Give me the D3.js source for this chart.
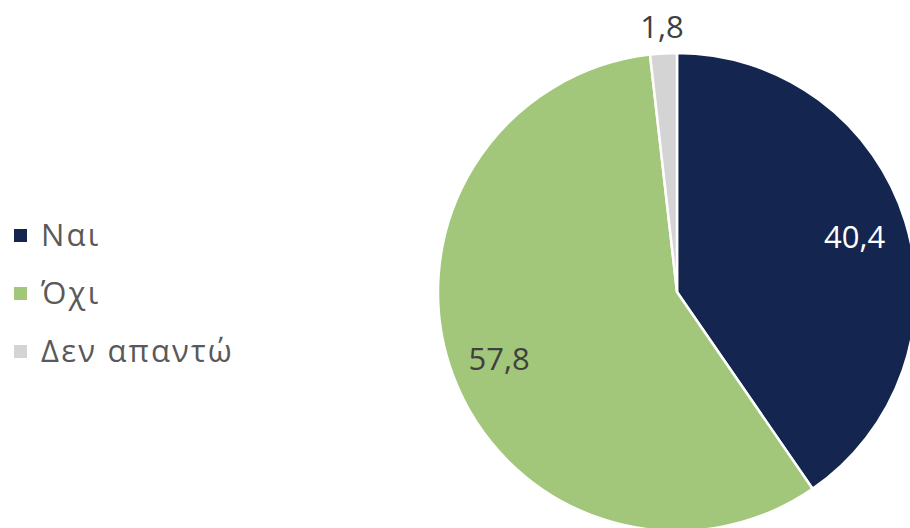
<!DOCTYPE html>
<html>
<head>
<meta charset="utf-8">
<script src="https://cdn.jsdelivr.net/npm/d3@7"></script>
<style>
  body { margin: 0; background: #fff; }
  svg { display: block; font-family: "Open Sans", "Noto Sans", sans-serif; }
</style>
</head>
<body>
<svg width="910" height="528"></svg>
<script>
var categories = ["Ναι", "Όχι", "Δεν απαντώ"];
var values = [40.4, 57.8, 1.8];
var labels = ["40,4", "57,8", "1,8"];
var colors = ["#14264f", "#a3c77a", "#d4d4d4"];

var svg = d3.select("svg"),
    cx = 677, cy = 292, radius = 239;

var data = categories.map(function(c, i) { return {name: c, value: values[i], label: labels[i]}; });

var pie = d3.pie().sort(null).value(function(d) { return d.value; });
var arc = d3.arc().innerRadius(0).outerRadius(radius);
var color = d3.scaleOrdinal().domain(categories).range(colors);

var g = svg.append("g").attr("transform", "translate(" + cx + "," + cy + ")");
var arcs = pie(data);

g.selectAll("path")
    .data(arcs)
  .enter().append("path")
    .attr("d", arc)
    .attr("fill", function(d) { return color(d.data.name); })
    .attr("stroke", "#fff")
    .attr("stroke-width", 2.5)
    .attr("stroke-linejoin", "round");

// label radius: inside for big slices, outside for the small one
var labelRadius = [186, 190, 266];
var labelColor = ["#ffffff", "#404040", "#404040"];

g.selectAll("text.val")
    .data(arcs)
  .enter().append("text")
    .attr("class", "val")
    .attr("transform", function(d, i) {
      var a = (d.startAngle + d.endAngle) / 2;
      return "translate(" + (Math.sin(a) * labelRadius[i]) + "," + (-Math.cos(a) * labelRadius[i]) + ")";
    })
    .attr("text-anchor", "middle")
    .attr("dy", "0.36em")
    .style("font-size", "31px")
    .attr("fill", function(d, i) { return labelColor[i]; })
    .text(function(d) { return d.data.label; });

var legend = svg.append("g").attr("transform", "translate(14,235)");
var item = legend.selectAll("g")
    .data(categories)
  .enter().append("g")
    .attr("transform", function(d, i) { return "translate(0," + (i * 58) + ")"; });

item.append("rect")
    .attr("x", 0).attr("y", -6)
    .attr("width", 13).attr("height", 13)
    .attr("fill", function(d) { return color(d); });

item.append("text")
    .attr("x", 27)
    .attr("dy", "0.36em")
    .style("font-size", "31px")
    .style("letter-spacing", "2.2px")
    .attr("fill", "#595959")
    .text(function(d) { return d; });
</script>
</body>
</html>
